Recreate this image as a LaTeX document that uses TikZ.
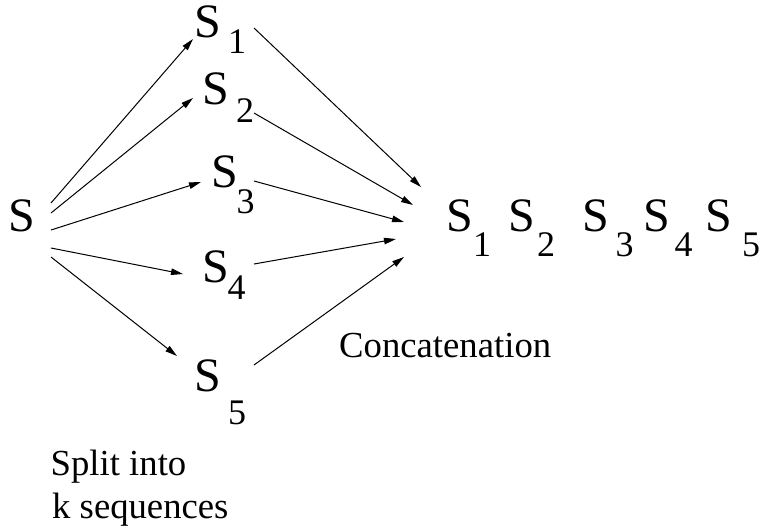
\documentclass[tikz,border=0pt]{standalone}
\usepackage{fontspec}
\setmainfont{Liberation Serif}
\usetikzlibrary{arrows.meta}
\begin{document}
\begin{tikzpicture}[x=1pt,y=-1pt,
  big/.style={anchor=base west,inner sep=0pt,text height=0.68em,text depth=0.02em,font=\fontsize{48}{48}\selectfont},
  sub/.style={anchor=base west,inner sep=0pt,text height=0.68em,text depth=0.02em,font=\fontsize{36}{36}\selectfont},
  txt/.style={anchor=base west,inner sep=0pt,font=\fontsize{36.7}{43}\selectfont},
  arr/.style={line width=1pt,-{Triangle[length=12pt,width=6.5pt]}}]
\useasboundingbox (0,0) rectangle (762,531);
% source sequence
\node[big] (src) at (8,231) {S};
% the five parts
\node[big] (p1) at (194,37) {S};  \node[sub] (p1i) at (228,53) {1};
\node[big] (p2) at (202,104) {S}; \node[sub] (p2i) at (236,122) {2};
\node[big] (p3) at (211,187) {S}; \node[sub] (p3i) at (236.5,213.5) {3};
\node[big] (p4) at (202,282) {S}; \node[sub] (p4i) at (227.5,299) {4};
\node[big] (p5) at (194,391) {S}; \node[sub] (p5i) at (228,424.5) {5};
% concatenated result
\node[big] (c1) at (446,231) {S}; \node[sub] (c1i) at (473,256) {1};
\node[big] (c2) at (508,231) {S}; \node[sub] (c2i) at (537,256) {2};
\node[big] (c3) at (582,231) {S}; \node[sub] (c3i) at (615.5,256) {3};
\node[big] (c4) at (643,231) {S}; \node[sub] (c4i) at (674.5,256) {4};
\node[big] (c5) at (705,231) {S}; \node[sub] (c5i) at (742,256) {5};
% captions
\node[txt] (cat) at (339,357) {Concatenation};
\node[txt] (split1) at (50.5,475) {Split into};
\node[txt] (split2) at (52,518) {k sequences};
% arrow ends: splitting
\coordinate (o1) at (51,203); \coordinate (i1) at (193,39);
\coordinate (o2) at (51,213); \coordinate (i2) at (193,98);
\coordinate (o3) at (51,230); \coordinate (i3) at (201,182);
\coordinate (o4) at (51,248); \coordinate (i4) at (183,274);
\coordinate (o5) at (51,257); \coordinate (i5) at (177,356);
% arrow ends: joining
\coordinate (q1) at (254,28);  \coordinate (r1) at (421,187);
\coordinate (q2) at (254,113); \coordinate (r2) at (413,205);
\coordinate (q3) at (254,181); \coordinate (r3) at (404,222);
\coordinate (q4) at (254,264); \coordinate (r4) at (396,239);
\coordinate (q5) at (254,365); \coordinate (r5) at (404,257);
\foreach \k in {1,...,5}{
  \draw[arr] (o\k) -- (i\k);
  \draw[arr] (q\k) -- (r\k);
}
\end{tikzpicture}
\end{document}
